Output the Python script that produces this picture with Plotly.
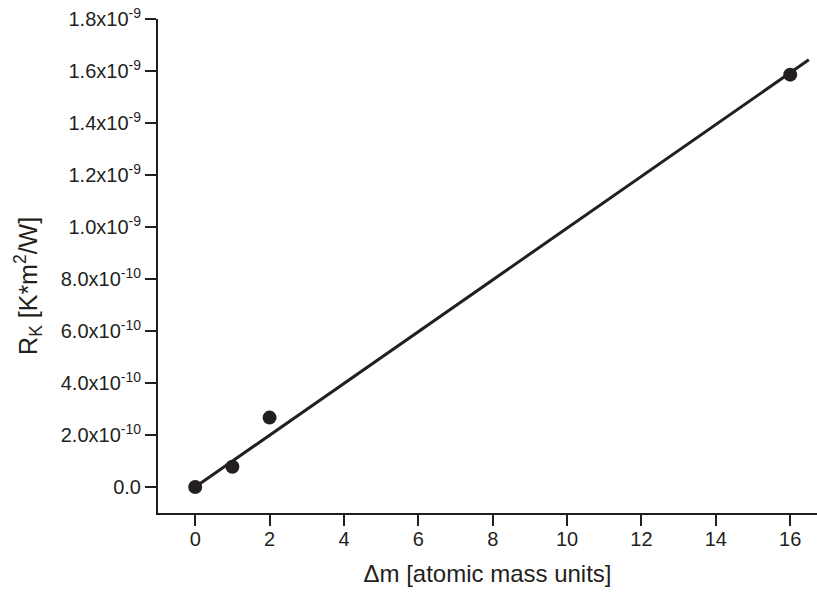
import numpy as np
import plotly.graph_objects as go

# Data
delta_m = [0, 1, 2, 16]
r_k = [0.0, 0.78e-10, 2.67e-10, 1.586e-9]
fit_x_end = 16.5

x_ticks = [0, 2, 4, 6, 8, 10, 12, 14, 16]
y_tickvals = [0, 2e-10, 4e-10, 6e-10, 8e-10, 1.0e-9, 1.2e-9, 1.4e-9, 1.6e-9, 1.8e-9]
y_ticktext = ["0.0", "2.0x10<sup>-10</sup>", "4.0x10<sup>-10</sup>", "6.0x10<sup>-10</sup>",
              "8.0x10<sup>-10</sup>", "1.0x10<sup>-9</sup>", "1.2x10<sup>-9</sup>",
              "1.4x10<sup>-9</sup>", "1.6x10<sup>-9</sup>", "1.8x10<sup>-9</sup>"]
y_title = "R<sub>K</sub> [K*m<sup>2</sup>/W]"
x_title = "Δm [atomic mass units]"

# linear fit through origin
x = np.array(delta_m, dtype=float)
y = np.array(r_k, dtype=float)
slope = float(np.sum(x * y) / np.sum(x * x))
fit_x = [0, fit_x_end]
fit_y = [0, slope * fit_x_end]

INK = "#231F20"
FONT = "Liberation Sans, Arial, Helvetica, sans-serif"

fig = go.Figure()
fig.add_trace(go.Scatter(x=fit_x, y=fit_y, mode="lines",
                         line=dict(color=INK, width=3), showlegend=False))
fig.add_trace(go.Scatter(x=delta_m, y=r_k, mode="markers",
                         marker=dict(color=INK, size=14), showlegend=False))

fig.update_layout(
    width=817, height=596,
    margin=dict(l=158, r=0, t=19, b=83),
    paper_bgcolor="white", plot_bgcolor="white",
    font=dict(family=FONT, size=20, color=INK),
    xaxis=dict(range=[-1, 16.72], tickvals=x_ticks, ticks="outside", ticklen=11,
               tickwidth=2, tickcolor=INK, showline=True, linecolor=INK, linewidth=2,
               showgrid=False, zeroline=False, ticklabelstandoff=-4,
               tickfont=dict(size=20),
               title=dict(text=x_title, font=dict(size=24), standoff=16)),
    yaxis=dict(range=[-1e-10, 1.8e-9], tickvals=y_tickvals, ticktext=y_ticktext,
               ticks="outside", ticklen=11, tickwidth=2, tickcolor=INK,
               showline=True, linecolor=INK, linewidth=2, showgrid=False, zeroline=False,
               tickfont=dict(size=20)),
    annotations=[dict(text=y_title, textangle=-90, showarrow=False,
                      xref="paper", yref="paper", x=-0.197, y=0.46,
                      xanchor="center", yanchor="middle",
                      font=dict(size=25, color=INK, family=FONT))],
)

fig.write_html("out.html")
